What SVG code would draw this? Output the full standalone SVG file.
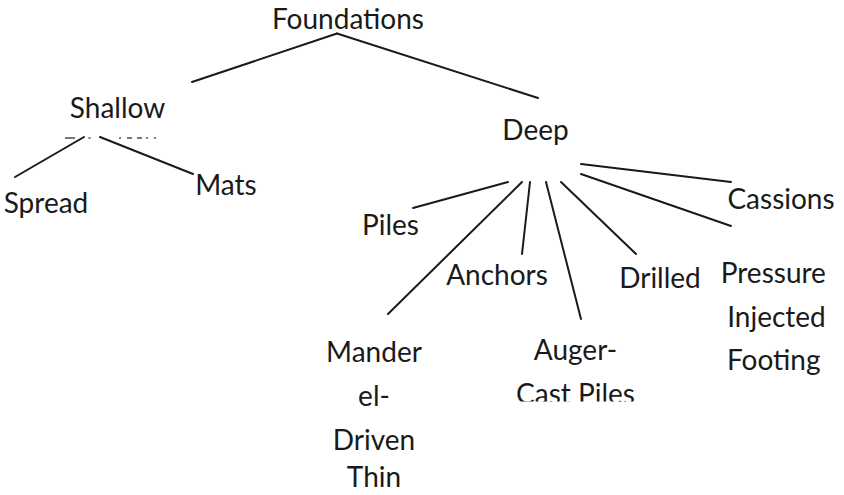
<svg xmlns="http://www.w3.org/2000/svg" width="844" height="495" viewBox="0 0 844 495">
<style>
  text { font-family: Lato, "Liberation Sans", sans-serif; font-size: 28px; fill: #1a1a1a; text-anchor: middle; }
  .conn line { stroke: #1a1a1a; stroke-width: 2; stroke-linecap: round; }
  .sliver { stroke: #555; stroke-width: 1.6; }
</style>
<defs>
  <clipPath id="clipCast"><rect x="480" y="370" width="200" height="31.5"/></clipPath>
</defs>
<rect width="844" height="495" fill="#ffffff"/>
<g id="connectors" class="conn">
  <line x1="337" y1="33.5" x2="192" y2="82"/>
  <line x1="337" y1="33.5" x2="538" y2="98"/>
  <line x1="84" y1="137" x2="15" y2="177"/>
  <line x1="100" y1="137" x2="193" y2="174"/>
  <line x1="508" y1="182" x2="413" y2="208"/>
  <line x1="522" y1="182" x2="388" y2="314"/>
  <line x1="530" y1="182" x2="522" y2="254"/>
  <line x1="546" y1="182" x2="581" y2="319"/>
  <line x1="561" y1="182" x2="636" y2="254"/>
  <line x1="581" y1="174" x2="731" y2="226"/>
  <line x1="581" y1="164" x2="731" y2="182"/>
</g>
<g id="n-foundations"><text x="348" y="29">Foundations</text></g>
<g id="n-shallow">
  <text x="117.5" y="118">Shallow</text>
  <g class="sliver">
    <line x1="65" y1="138" x2="75" y2="138"/>
    <line x1="88.5" y1="138" x2="90.5" y2="138"/>
    <line x1="119" y1="138" x2="121" y2="138"/>
    <line x1="127" y1="138" x2="132" y2="138"/>
    <line x1="137" y1="138" x2="142" y2="138"/>
    <line x1="146" y1="138" x2="148" y2="138"/>
    <line x1="154" y1="138" x2="156" y2="138"/>
  </g>
</g>
<g id="n-spread"><text x="46" y="213">Spread</text></g>
<g id="n-mats"><text x="226" y="195">Mats</text></g>
<g id="n-deep"><text x="535.5" y="140">Deep</text></g>
<g id="n-piles"><text x="390.5" y="235">Piles</text></g>
<g id="n-cassions"><text x="781" y="209">Cassions</text></g>
<g id="n-anchors"><text x="497" y="285">Anchors</text></g>
<g id="n-drilled"><text x="660" y="288">Drilled</text></g>
<g id="n-pressure">
  <text x="773.3" y="282.7">Pressure</text>
  <text x="776.5" y="326.7">Injected</text>
  <text x="773.7" y="370">Footing</text>
</g>
<g id="n-mandrel">
  <text x="374" y="362">Mander</text>
  <text x="374" y="406">el-</text>
  <text x="374" y="450">Driven</text>
  <text x="374" y="487">Thin</text>
</g>
<g id="n-auger">
  <text x="575.5" y="360">Auger-</text>
  <text x="575.5" y="404" clip-path="url(#clipCast)">Cast Piles</text>
</g>
</svg>
